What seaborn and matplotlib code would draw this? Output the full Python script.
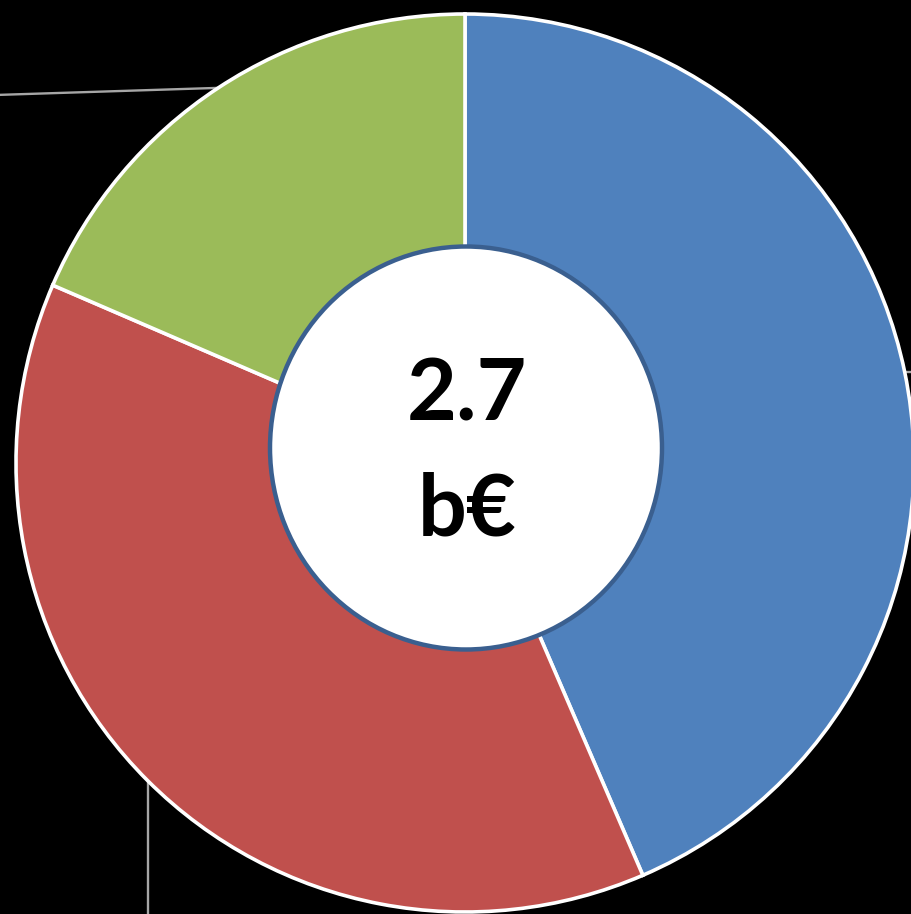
import matplotlib.pyplot as plt
import matplotlib.patches as mpatches
import seaborn as sns
import numpy as np

# slice values (b€), order = clockwise from 12 o'clock
segments = ["Blue", "Red", "Green"]
values = [1.175, 1.025, 0.50]
colors = ["#4f81bd", "#c0504d", "#9bbb59"]
total_label = "2.7\nb€"

sns.set_theme(style="dark")
plt.rcParams['font.family'] = ['Lato', 'DejaVu Sans']

fig = plt.figure(figsize=(9.12, 9.14), dpi=100, facecolor="black")
ax = fig.add_axes([0, 0, 1, 1])
ax.set_facecolor("black")

R = 449.0  # outer radius in px
cx, cy = 465.0, 463.0  # pie centre in px from top-left

wedges, _ = ax.pie(values, colors=colors, startangle=90, counterclock=False,
                   radius=1.0, center=(0, 0), frame=True,
                   wedgeprops=dict(edgecolor="white", linewidth=2.6))
ax.set_xlim(-cx / R, (912 - cx) / R)
ax.set_ylim(-(914 - cy) / R, cy / R)
ax.set_axis_off()

# leader lines from the middle of each wedge's outer edge
lead_dirs = [(1.0, 0.0), (0.0, -1.0), (-1.0, -0.032)]
for w, (dx, dy) in zip(wedges, lead_dirs):
    ang = np.deg2rad((w.theta1 + w.theta2) / 2)
    x0, y0 = np.cos(ang), np.sin(ang)
    ax.plot([x0, x0 + dx * 1.2], [y0, y0 + dy * 1.2], color="#a6a6a6",
            lw=1.7, zorder=0.5, solid_capstyle="butt")

# centre hole
hole = mpatches.Ellipse((1 / R, (cy - 448) / R), 392 / R, 403 / R,
                        facecolor="white", edgecolor="#3a5f8f", linewidth=3.2, zorder=5)
ax.add_patch(hole)

lines = total_label.split("\n")
ax.text(2 / R, (cy - 396) / R, lines[0], ha="center", va="center",
        fontsize=62, fontweight="bold", color="black", zorder=6)
ax.text(2 / R, (cy - 511) / R, lines[1], ha="center", va="center",
        fontsize=62, fontweight="bold", color="black", zorder=6)

fig.savefig("out.png", dpi=100, facecolor="black")
